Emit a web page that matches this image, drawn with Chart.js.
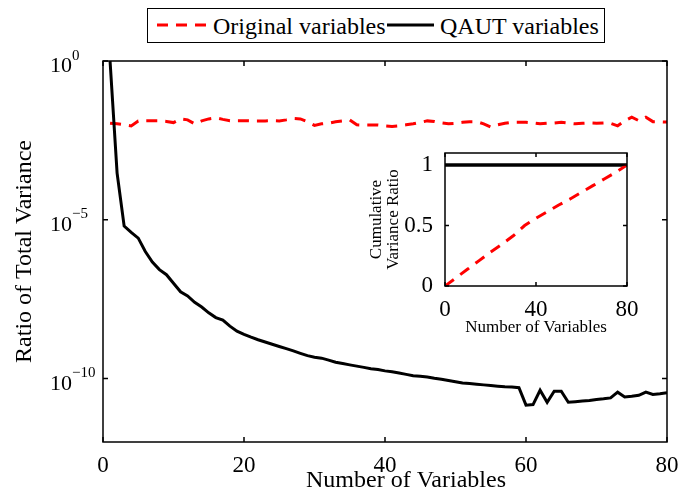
<!DOCTYPE html>
<html>
<head>
<meta charset="utf-8">
<script src="https://cdn.jsdelivr.net/npm/chart.js@4.4.1/dist/chart.umd.min.js"></script>
<style>
  body { margin: 0; background: #fff; }
  #wrap { position: relative; width: 680px; height: 504px; background: #fff; font-family: "Liberation Serif", serif; }
  #main { position: absolute; left: 0; top: 0; }
  #inset { position: absolute; left: 340px; top: 140px; }
  #legend { position: absolute; left: 147px; top: 8px; width: 458px; height: 35px; box-sizing: border-box;
            border: 1px solid #000; background: #fff; }
  #legend svg { position: absolute; top: 14px; }
  #legend span { position: absolute; top: 5px; font-size: 24px; line-height: 24px; color: #000; white-space: nowrap; }
</style>
</head>
<body>
<div id="wrap">
  <canvas id="main" width="680" height="504" style="width:680px;height:504px"></canvas>
  <canvas id="inset" width="300" height="210" style="width:300px;height:210px"></canvas>
  <div id="legend">
    <svg style="left:9px" width="50" height="4"><line x1="0" y1="2" x2="50" y2="2" stroke="#f00" stroke-width="3" stroke-dasharray="11 8"/></svg>
    <span style="left:65px">Original variables</span>
    <svg style="left:239px" width="47" height="4"><line x1="0" y1="2" x2="47" y2="2" stroke="#000" stroke-width="3"/></svg>
    <span style="left:292px">QAUT variables</span>
  </div>
</div>
<script>
// Main plot data: ratio of total variance per variable
const varNum = [1, 2, 3, 4, 5, 6, 7, 8, 9, 10, 11, 12, 13, 14, 15, 16, 17, 18, 19, 20,
  21, 22, 23, 24, 25, 26, 27, 28, 29, 30, 31, 32, 33, 34, 35, 36, 37, 38, 39, 40,
  41, 42, 43, 44, 45, 46, 47, 48, 49, 50, 51, 52, 53, 54, 55, 56, 57, 58, 59, 60,
  61, 62, 63, 64, 65, 66, 67, 68, 69, 70, 71, 72, 73, 74, 75, 76, 77, 78, 79, 80];

const originalRatio = [0.0110, 0.0105, 0.0098, 0.0090, 0.0129, 0.0132, 0.0132, 0.0132, 0.0125, 0.0115,
  0.0150, 0.0140, 0.0105, 0.0130, 0.0150, 0.0162, 0.0145, 0.0132, 0.0132, 0.0132,
  0.0130, 0.0130, 0.0130, 0.0132, 0.0130, 0.0140, 0.0154, 0.0150, 0.0122, 0.0094,
  0.0105, 0.0110, 0.0122, 0.0130, 0.0140, 0.0098, 0.0096, 0.0096, 0.0096, 0.0091,
  0.0087, 0.0091, 0.0098, 0.0105, 0.0117, 0.0130, 0.0125, 0.0112, 0.0105, 0.0109,
  0.0117, 0.0123, 0.0123, 0.0105, 0.0083, 0.0098, 0.0109, 0.0117, 0.0117, 0.0117,
  0.0112, 0.0105, 0.0110, 0.0112, 0.0117, 0.0110, 0.0105, 0.0109, 0.0112, 0.0109,
  0.0112, 0.0109, 0.0091, 0.0130, 0.0169, 0.0132, 0.0169, 0.0123, 0.0122, 0.0119];

const qautRatio = [1.0, 2.95e-4, 6.3e-6, 3.98e-6, 2.63e-6, 1.0e-6, 4.68e-7, 2.69e-7, 1.86e-7, 1.0e-7,
  5.37e-8, 3.98e-8, 2.51e-8, 1.78e-8, 1.17e-8, 8.3e-9, 6.9e-9, 4.47e-9, 3.09e-9, 2.45e-9,
  2.0e-9, 1.66e-9, 1.41e-9, 1.2e-9, 1.02e-9, 8.7e-10, 7.4e-10, 6.2e-10, 5.25e-10, 4.68e-10,
  4.37e-10, 3.8e-10, 3.24e-10, 2.95e-10, 2.69e-10, 2.45e-10, 2.24e-10, 2.04e-10, 1.91e-10, 1.74e-10,
  1.62e-10, 1.48e-10, 1.35e-10, 1.23e-10, 1.17e-10, 1.12e-10, 1.02e-10, 9.5e-11, 8.7e-11, 7.9e-11,
  7.2e-11, 6.9e-11, 6.6e-11, 6.3e-11, 6.0e-11, 5.75e-11, 5.5e-11, 5.37e-11, 5.13e-11, 1.45e-11,
  1.51e-11, 4.27e-11, 1.78e-11, 3.98e-11, 3.98e-11, 1.78e-11, 1.86e-11, 1.95e-11, 2.04e-11, 2.19e-11,
  2.29e-11, 2.45e-11, 3.72e-11, 2.63e-11, 2.75e-11, 2.95e-11, 3.72e-11, 3.16e-11, 3.31e-11, 3.55e-11];

const xTicks = [0, 20, 40, 60, 80];
const yTicks = [1e-10, 1e-5, 1];

// Inset data: cumulative variance ratio
const insetX = [0, 5, 10, 15, 20, 25, 30, 35, 40, 45, 50, 55, 60, 65, 70, 75, 80];
const insetOriginal = [0, 0.07, 0.14, 0.21, 0.28, 0.345, 0.415, 0.5, 0.56, 0.615, 0.67, 0.72, 0.775, 0.83, 0.885, 0.94, 1.0];
const insetQaut = [1, 1, 1, 1, 1, 1, 1, 1, 1, 1, 1, 1, 1, 1, 1, 1, 1];
const insetXTicks = [0, 40, 80];
const insetYTicks = [0, 0.5, 1];

Chart.defaults.font.family = '"Liberation Serif", serif';
Chart.defaults.color = '#000';

const pts = (xs, ys) => xs.map((v, i) => ({ x: v, y: ys[i] }));
const setTicks = vals => s => { s.ticks = vals.map(v => ({ value: v })); };

// frame + inward tick marks on all four sides (matlab "box on")
const boxTicks = {
  id: 'boxTicks',
  beforeDatasetsDraw(chart, args, opts) {
    if (!opts.fill) return;
    const a = chart.chartArea;
    chart.ctx.save();
    chart.ctx.fillStyle = '#fff';
    chart.ctx.fillRect(a.left, a.top, a.right - a.left, a.bottom - a.top);
    chart.ctx.restore();
  },
  afterDatasetsDraw(chart, args, opts) {
    const { ctx, chartArea: a, scales: { x, y } } = chart;
    ctx.save();
    ctx.strokeStyle = '#000';
    ctx.lineWidth = opts.width;
    ctx.beginPath();
    x.ticks.forEach(t => {
      const px = x.getPixelForValue(t.value);
      ctx.moveTo(px, a.bottom); ctx.lineTo(px, a.bottom - opts.len);
      ctx.moveTo(px, a.top); ctx.lineTo(px, a.top + opts.len);
    });
    y.ticks.forEach(t => {
      const py = y.getPixelForValue(t.value);
      ctx.moveTo(a.left, py); ctx.lineTo(a.left + opts.len, py);
      ctx.moveTo(a.right, py); ctx.lineTo(a.right - opts.len, py);
    });
    ctx.stroke();
    ctx.strokeRect(a.left, a.top, a.right - a.left, a.bottom - a.top);
    ctx.restore();
  }
};

// 10^n labels for the log axis, plus the x axis title (sits a bit right of centre in the original)
const mainText = {
  id: 'mainText',
  afterDraw(chart, args, opts) {
    const { ctx, scales: { y } } = chart;
    ctx.save();
    ctx.fillStyle = '#000';
    ctx.textAlign = 'left';
    ctx.textBaseline = 'alphabetic';
    y.ticks.forEach(t => {
      const py = y.getPixelForValue(t.value);
      const e = Math.round(Math.log10(t.value));
      ctx.font = '22px "Liberation Serif"';
      ctx.fillText('10', 50, py + 11);
      const w = ctx.measureText('10').width;
      ctx.font = '15px "Liberation Serif"';
      ctx.fillText(e === 0 ? '0' : '\u2212' + Math.abs(e), 50 + w, py - 1.5);
    });
    ctx.font = '24px "Liberation Serif"';
    ctx.textAlign = 'center';
    ctx.fillText(opts.xTitle, 406, 487);
    ctx.restore();
  }
};

new Chart(document.getElementById('main'), {
  type: 'line',
  data: {
    datasets: [
      { label: 'Original variables', data: pts(varNum, originalRatio), borderColor: '#ff0000',
        borderWidth: 3, borderDash: [11, 8], pointRadius: 0, order: 1 },
      { label: 'QAUT variables', data: pts(varNum, qautRatio), borderColor: '#000',
        borderWidth: 3, pointRadius: 0, order: 0 }
    ]
  },
  options: {
    responsive: false,
    animation: false,
    layout: { padding: { top: 61, right: 13, left: 0, bottom: 0 } },
    plugins: {
      legend: { display: false }, tooltip: { enabled: false },
      boxTicks: { len: 5, width: 1.5 },
      mainText: { xTitle: 'Number of Variables' }
    },
    scales: {
      x: {
        type: 'linear', min: 0, max: 80,
        grid: { display: false }, border: { display: false },
        afterBuildTicks: setTicks(xTicks),
        afterFit: s => { s.height = 62; s.paddingLeft = 0; s.paddingRight = 0; },
        ticks: { padding: 2, font: { size: 23 }, maxRotation: 0, autoSkip: false }
      },
      y: {
        type: 'logarithmic', min: 1e-12, max: 1,
        grid: { display: false }, border: { display: false },
        afterBuildTicks: setTicks(yTicks),
        afterFit: s => { s.width = 103; s.paddingTop = 0; s.paddingBottom = 0; },
        ticks: { display: false },
        title: { display: true, text: 'Ratio of Total Variance', font: { size: 24 }, padding: { top: 10, bottom: 0 } }
      }
    }
  },
  plugins: [boxTicks, mainText]
});

new Chart(document.getElementById('inset'), {
  type: 'line',
  data: {
    datasets: [
      { data: pts(insetX, insetOriginal), borderColor: '#ff0000', borderWidth: 3, borderDash: [11, 8], pointRadius: 0, order: 0 },
      { data: pts(insetX, insetQaut), borderColor: '#000', borderWidth: 3.5, pointRadius: 0, order: 1 }
    ]
  },
  options: {
    responsive: false,
    animation: false,
    layout: { padding: { top: 13, right: 13, left: 0, bottom: 0 } },
    plugins: { legend: { display: false }, tooltip: { enabled: false }, boxTicks: { len: 4, width: 1.5, fill: true } },
    scales: {
      x: {
        type: 'linear', min: 0, max: 80,
        grid: { display: false }, border: { display: false },
        afterBuildTicks: setTicks(insetXTicks),
        afterFit: s => { s.height = 64; s.paddingLeft = 0; s.paddingRight = 0; },
        ticks: { padding: 2, font: { size: 23 }, maxRotation: 0, autoSkip: false },
        title: { display: true, text: 'Number of Variables', font: { size: 17 }, padding: { top: 0, bottom: 12.3 } }
      },
      y: {
        type: 'linear', min: 0, max: 1.1,
        grid: { display: false }, border: { display: false },
        afterBuildTicks: setTicks(insetYTicks),
        afterFit: s => { s.width = 105; s.paddingTop = 0; s.paddingBottom = 0; },
        ticks: { padding: 4, font: { size: 23 }, autoSkip: false, callback: v => String(v) },
        title: { display: true, text: ['Cumulative', 'Variance Ratio'], font: { size: 17, lineHeight: 1.03 }, padding: { top: 27.6, bottom: 0 } }
      }
    }
  },
  plugins: [boxTicks]
});
</script>
</body>
</html>
